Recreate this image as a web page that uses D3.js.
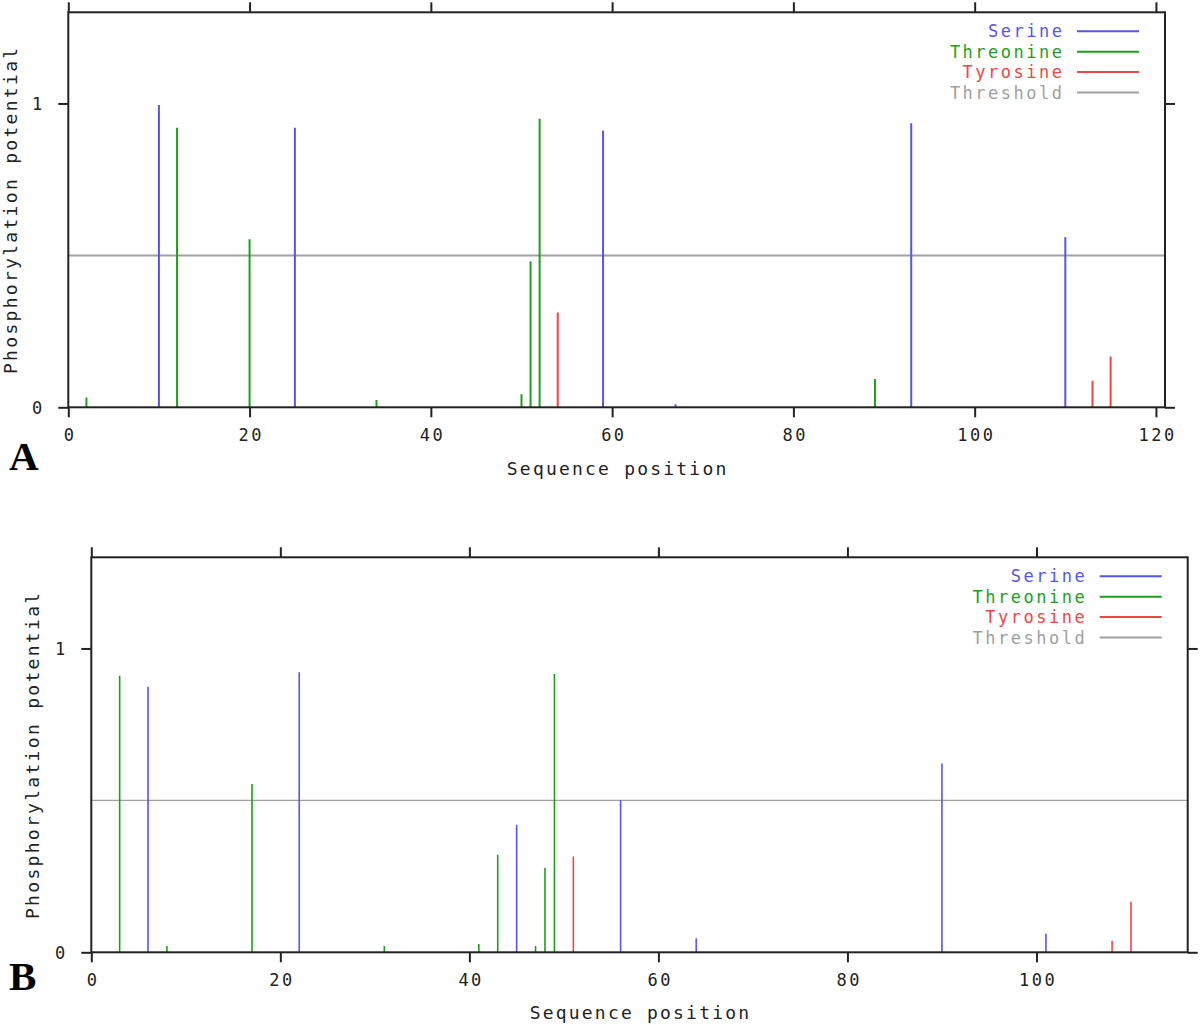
<!DOCTYPE html>
<html>
<head>
<meta charset="utf-8">
<script src="https://cdn.jsdelivr.net/npm/d3@7"></script>
<style>
  html, body { margin: 0; padding: 0; background: #fff; }
  svg text { font-family: "DejaVu Sans Mono", "Liberation Mono", monospace; }
</style>
</head>
<body>
<svg id="chart" width="1200" height="1025"></svg>
<script>
// ---------- DATA ----------
const seriesNames = ["Serine", "Threonine", "Tyrosine", "Threshold"];
const threshold = 0.5;
const yTicks = [0, 1];

// Panel A
const aXTicks = [0, 20, 40, 60, 80, 100, 120];
const aSerinePos = [10, 25, 59, 67, 93, 110];
const aSerineVal = [0.995, 0.92, 0.91, 0.01, 0.935, 0.56];
const aThreoninePos = [2, 12, 20, 34, 50, 51, 52, 89];
const aThreonineVal = [0.032, 0.92, 0.553, 0.024, 0.043, 0.48, 0.95, 0.093];
const aTyrosinePos = [54, 113, 115];
const aTyrosineVal = [0.312, 0.087, 0.167];

// Panel B
const bXTicks = [0, 20, 40, 60, 80, 100];
const bSerinePos = [6, 22, 45, 56, 64, 90, 101];
const bSerineVal = [0.874, 0.922, 0.42, 0.501, 0.046, 0.621, 0.062];
const bThreoninePos = [3, 8, 17, 31, 41, 43, 47, 48, 49];
const bThreonineVal = [0.91, 0.021, 0.554, 0.021, 0.027, 0.321, 0.021, 0.278, 0.916];
const bTyrosinePos = [51, 108, 110];
const bTyrosineVal = [0.315, 0.038, 0.166];

// ---------- STYLE ----------
const colors = { Serine: "#5555f0", Threonine: "#1ca01c", Tyrosine: "#f04545", Threshold: "#a0a0a0" };
const axisColor = "#222";
const svg = d3.select("#chart");

function zip(p, v) { return p.map((d, i) => ({ pos: d, val: v[i] })); }

function drawPanel(cfg) {
  const g = svg.append("g");
  const x = d3.scaleLinear().domain([0, cfg.xMax]).range([cfg.left, cfg.right]);
  const y = d3.scaleLinear().domain([0, 1.3]).range([cfg.bottom, cfg.top]);

  // threshold
  g.append("line")
    .attr("x1", x(0)).attr("x2", x(cfg.xMax))
    .attr("y1", y(threshold)).attr("y2", y(threshold))
    .attr("stroke", colors.Threshold).attr("stroke-width", cfg.thrWidth);

  // bars
  const series = [
    ["Serine", zip(cfg.serPos, cfg.serVal)],
    ["Threonine", zip(cfg.thrPos, cfg.thrVal)],
    ["Tyrosine", zip(cfg.tyrPos, cfg.tyrVal)]
  ];
  series.forEach(([name, data]) => {
    g.selectAll(null).data(data).enter().append("line")
      .attr("x1", d => x(d.pos)).attr("x2", d => x(d.pos))
      .attr("y1", y(0)).attr("y2", d => y(d.val))
      .attr("stroke", colors[name]).attr("stroke-width", cfg.barWidth);
  });

  // axes (all four sides, ticks outward)
  const fontSize = 17, ls = 2.5;
  const fmt = d3.format("d");
  const bottomAxis = d3.axisBottom(x).tickValues(cfg.xTicks).tickFormat(fmt).tickSize(10).tickSizeOuter(0).tickPadding(12);
  const topAxis = d3.axisTop(x).tickValues(cfg.xTicks).tickSize(10).tickSizeOuter(0).tickFormat("");
  const leftAxis = d3.axisLeft(y).tickValues(yTicks).tickFormat(fmt).tickSize(10).tickSizeOuter(0).tickPadding(12);
  const rightAxis = d3.axisRight(y).tickValues(yTicks).tickSize(10).tickSizeOuter(0).tickFormat("");

  const gb = g.append("g").attr("transform", `translate(0,${cfg.bottom})`).call(bottomAxis);
  const gt = g.append("g").attr("transform", `translate(0,${cfg.top})`).call(topAxis);
  const gl = g.append("g").attr("transform", `translate(${cfg.left},0)`).call(leftAxis);
  const gr = g.append("g").attr("transform", `translate(${cfg.right},0)`).call(rightAxis);

  [gb, gt, gl, gr].forEach(a => {
    a.select(".domain").remove();
    a.selectAll(".tick line").attr("stroke", axisColor).attr("stroke-width", 2);
    a.selectAll("text").attr("fill", "#222").style("font-size", fontSize + "px")
      .style("letter-spacing", ls + "px").attr("font-family", null);
  });
  gb.selectAll("text").attr("dx", ls / 2);
  gl.selectAll("text").attr("dy", "0.35em").attr("text-anchor", "middle").attr("x", -30);

  // frame
  g.append("rect")
    .attr("x", cfg.left).attr("y", cfg.top)
    .attr("width", cfg.right - cfg.left).attr("height", cfg.bottom - cfg.top)
    .attr("fill", "none").attr("stroke", axisColor).attr("stroke-width", 2);

  // axis titles
  g.append("text")
    .attr("x", (cfg.left + cfg.right) / 2 + 1).attr("y", cfg.xLabelY)
    .attr("text-anchor", "middle").attr("dominant-baseline", "central")
    .style("font-size", "18px").style("letter-spacing", "2.2px").attr("fill", "#222")
    .text("Sequence position");
  g.append("text")
    .attr("transform", `translate(${cfg.yLabelX},${(cfg.top + cfg.bottom) / 2}) rotate(-90)`)
    .attr("text-anchor", "middle").attr("dominant-baseline", "central")
    .style("font-size", "18px").style("letter-spacing", "2.3px").attr("fill", "#222")
    .text("Phosphorylation potential");

  // legend
  const lg = g.append("g");
  seriesNames.forEach((name, i) => {
    const ly = cfg.top + 19 + i * 20.4;
    lg.append("text")
      .attr("x", cfg.right - 103 + ls).attr("y", ly)
      .attr("text-anchor", "end").attr("dominant-baseline", "central")
      .style("font-size", fontSize + "px").style("letter-spacing", ls + "px")
      .attr("fill", colors[name]).text(name);
    lg.append("line")
      .attr("x1", cfg.right - 88).attr("x2", cfg.right - 26)
      .attr("y1", ly).attr("y2", ly)
      .attr("stroke", colors[name]).attr("stroke-width", 2);
  });

  // panel letter
  svg.append("text")
    .attr("x", 9).attr("y", cfg.letterY)
    .style("font-family", "'Liberation Serif', 'Times New Roman', serif")
    .style("font-weight", "bold").style("font-size", "41px").attr("fill", "#000")
    .text(cfg.letter);
}

drawPanel({
  letter: "A", letterY: 470,
  left: 68.3, right: 1165, top: 12.3, bottom: 407.3, xMax: 121,
  xTicks: aXTicks, xLabelY: 468, yLabelX: 10,
  serPos: aSerinePos, serVal: aSerineVal,
  thrPos: aThreoninePos, thrVal: aThreonineVal,
  tyrPos: aTyrosinePos, tyrVal: aTyrosineVal,
  barWidth: 2, thrWidth: 2
});

drawPanel({
  letter: "B", letterY: 990,
  left: 91.3, right: 1187.7, top: 557.3, bottom: 952.3, xMax: 116,
  xTicks: bXTicks, xLabelY: 1012, yLabelX: 32,
  serPos: bSerinePos, serVal: bSerineVal,
  thrPos: bThreoninePos, thrVal: bThreonineVal,
  tyrPos: bTyrosinePos, tyrVal: bTyrosineVal,
  barWidth: 1.6, thrWidth: 1.2
});
</script>
</body>
</html>
